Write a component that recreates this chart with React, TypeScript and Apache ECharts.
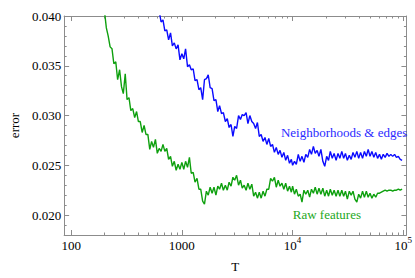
import React, { useEffect, useRef } from 'react';
import * as echarts from 'echarts';

// Shared T grid (x values, log axis)
const T = [
  200, 208, 216, 225, 234, 243, 253, 263, 274, 285, 296, 308, 320, 333, 346, 360, 375, 390, 405, 421,
  438, 456, 474, 493, 513, 533, 554, 577, 600, 624, 649, 675, 702, 730, 759, 790, 821, 854, 888, 924, 961,
  1000, 1040, 1080, 1125, 1170, 1215, 1265, 1315, 1370, 1425, 1480, 1540, 1600, 1665, 1730, 1800, 1875, 1950,
  2030, 2110, 2190, 2280, 2370, 2470, 2570, 2670, 2780, 2890, 3000, 3120, 3250, 3380, 3510, 3650, 3800, 3950,
  4110, 4280, 4450, 4630, 4810, 5000, 5200, 5410, 5630, 5850, 6090, 6330, 6580, 6850, 7120, 7410, 7700, 8010,
  8330, 8660, 9010, 9370, 9740,
  10000, 10400, 10800, 11250, 11700, 12150, 12650, 13150, 13700, 14250, 14800, 15400, 16000, 16650, 17300,
  18000, 18750, 19500, 20300, 21100, 21900, 22800, 23700, 24700, 25700, 26700, 27800, 28900, 30000, 31200,
  32500, 33800, 35100, 36500, 38000, 39500, 41100, 42800, 44500, 46300, 48100, 50000, 52000, 54100, 56300,
  58500, 60900, 63300, 65800, 68500, 71200, 74100, 77000, 80100, 83300, 86600, 90100, 93700, 97400,
];

// "Raw features" error values (one per T)
const rawFeatures = [
  0.0405, 0.0388, 0.0380, 0.0369, 0.0367, 0.0352, 0.0354, 0.0336, 0.0346, 0.0329, 0.0322, 0.0342, 0.0316, 0.0318,
  0.0305, 0.0307, 0.0298, 0.0304, 0.0294, 0.0294, 0.0283, 0.0290, 0.0281, 0.0281, 0.0266, 0.0274, 0.0268, 0.0276,
  0.0262, 0.0267, 0.0264, 0.0271, 0.0264, 0.0267, 0.0256, 0.0259, 0.0249, 0.0254, 0.0245, 0.0251, 0.0246,
  0.0253, 0.0246, 0.0254, 0.0248, 0.0258, 0.0242, 0.0243, 0.0233, 0.0237, 0.0226, 0.0226, 0.0214, 0.0211, 0.0224,
  0.0220, 0.0228, 0.0222, 0.0228, 0.0220, 0.0229, 0.0226, 0.0232, 0.0225, 0.0230, 0.0225, 0.0233, 0.0229, 0.0238,
  0.0235, 0.0240, 0.0230, 0.0235, 0.0227, 0.0230, 0.0225, 0.0232, 0.0226, 0.0231, 0.0219, 0.0223, 0.0217, 0.0223,
  0.0217, 0.0224, 0.0219, 0.0226, 0.0226, 0.0237, 0.0234, 0.0238, 0.0228, 0.0235, 0.0229, 0.0232, 0.0226, 0.0232,
  0.0224, 0.0229, 0.0223,
  0.0229, 0.0221, 0.0226, 0.0219, 0.0221, 0.0213, 0.0225, 0.0221, 0.0225, 0.0218, 0.0226, 0.0222, 0.0228, 0.0221,
  0.0227, 0.0221, 0.0227, 0.0219, 0.0225, 0.0219, 0.0226, 0.0220, 0.0225, 0.0219, 0.0225, 0.0219, 0.0225, 0.0219,
  0.0224, 0.0216, 0.0224, 0.0220, 0.0224, 0.0216, 0.0213, 0.0221, 0.0217, 0.0224, 0.0218, 0.0224, 0.0218, 0.0222,
  0.0217, 0.0221, 0.0218, 0.0222, 0.0222, 0.0223, 0.0224, 0.0225, 0.0224, 0.0225, 0.0225, 0.0224, 0.0225, 0.0225,
  0.0226, 0.0225, 0.0226,
];

// "Neighborhoods & edges" starts at T[29] = 624
const neighborhoodsStart = 29;
const neighborhoodsEdges = [
  0.0405, 0.0394, 0.0396, 0.0385, 0.0386, 0.0376, 0.0383, 0.0370, 0.0373, 0.0367, 0.0371, 0.0356,
  0.0362, 0.0357, 0.0367, 0.0349, 0.0351, 0.0346, 0.0347, 0.0335, 0.0336, 0.0326, 0.0328, 0.0316, 0.0336, 0.0337,
  0.0341, 0.0328, 0.0327, 0.0315, 0.0316, 0.0304, 0.0310, 0.0302, 0.0303, 0.0294, 0.0297, 0.0288, 0.0291, 0.0279,
  0.0289, 0.0287, 0.0300, 0.0296, 0.0301, 0.0300, 0.0303, 0.0292, 0.0300, 0.0294, 0.0292, 0.0287, 0.0293, 0.0279,
  0.0281, 0.0274, 0.0278, 0.0271, 0.0277, 0.0269, 0.0271, 0.0263, 0.0268, 0.0261, 0.0265, 0.0258, 0.0263, 0.0255,
  0.0260, 0.0252, 0.0256,
  0.0250, 0.0254, 0.0251, 0.0261, 0.0254, 0.0259, 0.0253, 0.0261, 0.0258, 0.0266, 0.0261, 0.0269, 0.0262, 0.0265,
  0.0259, 0.0266, 0.0254, 0.0249, 0.0259, 0.0255, 0.0264, 0.0257, 0.0262, 0.0255, 0.0262, 0.0257, 0.0264, 0.0257,
  0.0262, 0.0255, 0.0260, 0.0256, 0.0263, 0.0258, 0.0264, 0.0257, 0.0263, 0.0257, 0.0264, 0.0259, 0.0266, 0.0259,
  0.0264, 0.0258, 0.0263, 0.0257, 0.0261, 0.0256, 0.0261, 0.0258, 0.0262, 0.0259, 0.0261, 0.0259, 0.0261, 0.0258,
  0.0259, 0.0256, 0.0255,
];

const xMajorTicks = [100, 1000, 10000, 100000];
const xMinorTicks = [
  200, 300, 400, 500, 600, 700, 800, 900,
  2000, 3000, 4000, 5000, 6000, 7000, 8000, 9000,
  20000, 30000, 40000, 50000, 60000, 70000, 80000, 90000,
];
const yMajorTicks = [0.02, 0.025, 0.03, 0.035, 0.04];
const yMinorTicks = [
  0.019, 0.021, 0.022, 0.023, 0.024, 0.026, 0.027, 0.028, 0.029,
  0.031, 0.032, 0.033, 0.034, 0.036, 0.037, 0.038, 0.039,
];

const seriesNames = ['Raw features', 'Neighborhoods & edges'];

export default function App() {
  const ref = useRef<HTMLDivElement>(null);

  useEffect(() => {
    if (!ref.current) return;
    const chart = echarts.init(ref.current, null, { renderer: 'svg' });
    const FONT = '"Liberation Serif", "Times New Roman", serif';
    const GRAY = '#8c8c8c';
    const FS = 13;
    const axLine = { show: true, lineStyle: { color: GRAY, width: 1 } };

    const fmtX = (v: number) => {
      const e = Math.round(Math.log10(v));
      return e <= 3 ? `{b|${Math.round(Math.pow(10, e))}}` : `{b|10}{s|${e}}`;
    };

    const xCommon = {
      type: 'log',
      logBase: 10,
      min: 86.5,
      max: 106600,
      gridIndex: 0,
      splitLine: { show: false },
      minorTick: { show: false },
    };
    const yCommon = {
      type: 'value',
      min: 0.018,
      max: 0.04,
      gridIndex: 0,
      splitLine: { show: false },
      minorTick: { show: false },
    };

    const option: any = {
      animation: false,
      backgroundColor: '#ffffff',
      grid: { left: 52, right: 6, top: 16, bottom: 39, containLabel: false },
      xAxis: [
        {
          ...xCommon,
          position: 'bottom',
          axisLine: axLine,
          axisTick: { show: true, inside: true, length: 5, customValues: xMajorTicks, lineStyle: { color: GRAY } },
          axisLabel: {
            show: true,
            customValues: xMajorTicks,
            margin: 4,
            formatter: fmtX,
            rich: {
              b: { fontSize: FS, fontFamily: FONT, color: '#000' },
              s: { fontSize: 9, fontFamily: FONT, color: '#000', verticalAlign: 'top', height: 2 },
            },
          },
          name: 'T',
          nameLocation: 'middle',
          nameGap: 25,
          nameTextStyle: { fontSize: FS, fontFamily: FONT, color: '#000' },
        },
        {
          ...xCommon,
          position: 'bottom',
          axisLine: { show: false },
          axisTick: { show: true, inside: true, length: 2.5, customValues: xMinorTicks, lineStyle: { color: GRAY } },
          axisLabel: { show: false },
        },
        {
          ...xCommon,
          position: 'top',
          axisLine: axLine,
          axisTick: { show: true, inside: true, length: 5, customValues: xMajorTicks, lineStyle: { color: GRAY } },
          axisLabel: { show: false },
        },
        {
          ...xCommon,
          position: 'top',
          axisLine: { show: false },
          axisTick: { show: true, inside: true, length: 2.5, customValues: xMinorTicks, lineStyle: { color: GRAY } },
          axisLabel: { show: false },
        },
      ],
      yAxis: [
        {
          ...yCommon,
          position: 'left',
          axisLine: axLine,
          axisTick: { show: true, inside: true, length: 5, customValues: yMajorTicks, lineStyle: { color: GRAY } },
          axisLabel: {
            show: true,
            customValues: yMajorTicks,
            margin: 3,
            formatter: (v: number) => v.toFixed(3),
            fontSize: FS,
            fontFamily: FONT,
            color: '#000',
          },
          name: 'error',
          nameLocation: 'middle',
          nameGap: 37,
          nameRotate: 90,
          nameTextStyle: { fontSize: FS, fontFamily: FONT, color: '#000' },
        },
        {
          ...yCommon,
          position: 'left',
          axisLine: { show: false },
          axisTick: { show: true, inside: true, length: 2.5, customValues: yMinorTicks, lineStyle: { color: GRAY } },
          axisLabel: { show: false },
        },
        {
          ...yCommon,
          position: 'right',
          axisLine: axLine,
          axisTick: { show: true, inside: true, length: 5, customValues: yMajorTicks, lineStyle: { color: GRAY } },
          axisLabel: { show: false },
        },
        {
          ...yCommon,
          position: 'right',
          axisLine: { show: false },
          axisTick: { show: true, inside: true, length: 2.5, customValues: yMinorTicks, lineStyle: { color: GRAY } },
          axisLabel: { show: false },
        },
      ],
      series: [
        {
          name: seriesNames[0],
          type: 'line',
          xAxisIndex: 0,
          yAxisIndex: 0,
          showSymbol: false,
          symbol: 'none',
          clip: true,
          lineStyle: { color: '#0ea00e', width: 1.4 },
          data: T.map((t, i) => [t, rawFeatures[i]]),
          markPoint: {
            silent: true,
            symbol: 'circle',
            symbolSize: 1,
            itemStyle: { color: 'rgba(0,0,0,0)' },
            label: {
              show: true,
              position: 'inside',
              formatter: seriesNames[0],
              color: '#22a822',
              fontSize: FS,
              fontFamily: FONT,
              textBorderWidth: 0,
            },
            data: [{ coord: [20400, 0.0201] }],
          },
        },
        {
          name: seriesNames[1],
          type: 'line',
          xAxisIndex: 0,
          yAxisIndex: 0,
          showSymbol: false,
          symbol: 'none',
          clip: true,
          lineStyle: { color: '#0a0aff', width: 1.4 },
          data: T.slice(neighborhoodsStart).map((t, i) => [t, neighborhoodsEdges[i]]),
          markPoint: {
            silent: true,
            symbol: 'circle',
            symbolSize: 1,
            itemStyle: { color: 'rgba(0,0,0,0)' },
            label: {
              show: true,
              position: 'inside',
              formatter: seriesNames[1],
              color: '#2a2aff',
              fontSize: FS,
              fontFamily: FONT,
              textBorderWidth: 0,
            },
            data: [{ coord: [29200, 0.02834] }],
          },
        },
      ],
    };

    chart.setOption(option);
    return () => chart.dispose();
  }, []);

  return (
    <div
      ref={ref}
      style={{ position: 'absolute', left: 0, top: 0, width: 415, height: 278 }}
    />
  );
}
